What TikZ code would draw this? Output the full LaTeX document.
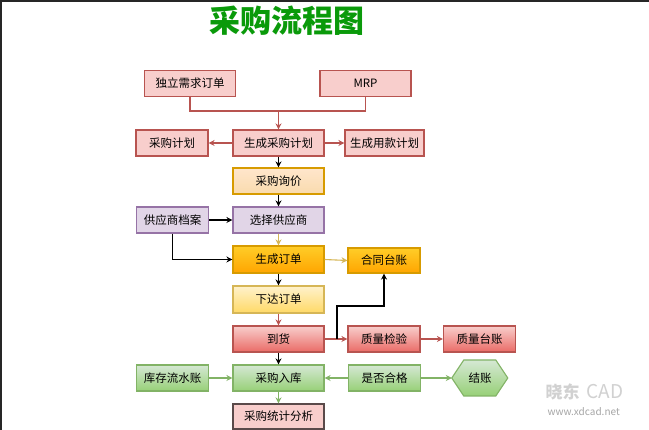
\documentclass[tikz,border=0pt]{standalone}
\usepackage{fontspec}
\setmainfont{Noto Sans CJK SC}
\usetikzlibrary{arrows.meta,calc}
\definecolor{redfill}{HTML}{F8CECC}
\definecolor{redline}{HTML}{B85450}
\definecolor{redbot}{HTML}{EA6B66}
\definecolor{orafill}{HTML}{FFE6CC}
\definecolor{oraline}{HTML}{D79B00}
\definecolor{goldtop}{HTML}{FFCD28}
\definecolor{goldbot}{HTML}{FFA500}
\definecolor{yelfill}{HTML}{FFF2CC}
\definecolor{yelbot}{HTML}{FFD966}
\definecolor{yelline}{HTML}{D6B656}
\definecolor{purfill}{HTML}{E1D5E7}
\definecolor{purline}{HTML}{9673A6}
\definecolor{grefill}{HTML}{D5E8D4}
\definecolor{grebot}{HTML}{97D077}
\definecolor{greline}{HTML}{82B366}
\definecolor{titlegreen}{HTML}{0A9A0A}
\definecolor{darkedge}{HTML}{5A4A4A}
\begin{document}
\begin{tikzpicture}[x=1pt,y=-1pt,
  font=\fontsize{11.5}{12}\selectfont,
  box/.style={draw, line width=1.1pt, minimum width=91pt, minimum height=26pt, inner sep=0pt},
  sbox/.style={box, minimum width=72pt},
  pinkbox/.style={fill=redfill, draw=redline},
  peachbox/.style={top color=orafill, bottom color=orafill!85!oraline, draw=oraline},
  purbox/.style={fill=purfill, draw=purline},
  goldbox/.style={top color=goldtop, bottom color=goldbot, draw=oraline},
  yelbox/.style={top color=yelfill, bottom color=yelbot, draw=yelline},
  redbox/.style={top color=redfill, bottom color=redbot, draw=redline},
  grebox/.style={top color=grefill, bottom color=grebot, draw=greline},
  arr/.style={line width=1.1pt, -{Stealth[length=6pt,width=6pt]}},
  ln/.style={line width=1.1pt},
]
\useasboundingbox (0,0) rectangle (649,430);
\fill[white] (0,0) rectangle (649,430);
\draw[line width=2pt, black!85] (1,430) -- (1,1) -- (649,1);

\node[text=titlegreen, font=\fontsize{31}{31}\selectfont\bfseries] (title) at (287,21) {采购流程图};

\node[box, pinkbox] (dl) at (190,83.5) {独立需求订单};
\node[box, pinkbox] (mrp) at (365.5,83.5) {MRP};
\node[sbox, pinkbox] (cgjh) at (172,143) {采购计划};
\node[box, pinkbox] (sccg) at (278.5,143) {生成采购计划};
\node[sbox, pinkbox, minimum width=79pt] (scyk) at (384.5,143) {生成用款计划};
\node[box, peachbox] (xj) at (278.5,181) {采购询价};
\node[box, purbox] (xz) at (278.5,220) {选择供应商};
\node[sbox, purbox] (da) at (172.5,220) {供应商档案};
\node[box, goldbox, minimum height=27pt] (scdd) at (278.5,259.5) {生成订单};
\node[sbox, goldbox, minimum height=25pt] (ht) at (384,260.5) {合同台账};
\node[box, yelbox, minimum height=27pt] (xd) at (278.5,299.5) {下达订单};
\node[box, redbox] (dh) at (278.5,339) {到货};
\node[sbox, redbox] (zj) at (384,339) {质量检验};
\node[sbox, redbox] (zt) at (479.5,339) {质量台账};
\node[sbox, grebox] (kc) at (172.5,378) {库存流水账};
\node[box, grebox] (rk) at (278.5,378) {采购入库};
\node[sbox, grebox] (sf) at (384.5,378) {是否合格};
\node[box, pinkbox, draw=darkedge, minimum height=25pt] (tj) at (278.5,416.5) {采购统计分析};

% hexagon
\node[minimum width=56pt, minimum height=36pt, inner sep=0pt] (jz) at (480,378) {};
\path[draw=greline, line width=1.1pt, top color=grefill, bottom color=grebot]
  (jz.west) -- ++(12,-18) -- ++(32,0) -- ++(12,18) -- ++(-12,18) -- ++(-32,0) -- cycle;
\node at (jz) {结账};

% connectors
\coordinate (m1) at (278.5,111);
\draw[ln, redline] (dl.south) |- (m1) -| (mrp.south);
\draw[arr, redline] (m1) -- (sccg.north);
\draw[arr, redline] (sccg.west) -- (cgjh.east);
\draw[arr, redline] (sccg.east) -- (scyk.west);
\draw[arr] (sccg.south) -- (xj.north);
\draw[arr] (xj.south) -- (xz.north);
\draw[arr] (da.east) -- (xz.west);
\draw[arr, yelline] (xz.south) -- (scdd.north);
\draw[arr] (da.south) |- (scdd.west);
\draw[arr, yelline] (scdd.east) -- (ht.west);
\draw[arr] (scdd.south) -- (xd.north);
\draw[arr, redline] (xd.south) -- (dh.north);
\draw[arr, redline] (dh.east) -- (zj.west);
\coordinate (j0) at (337,339);
\coordinate (j1) at (337,306);
\draw[arr] (j0) -- (j1) -| (ht.south);
\draw[arr, redline] (zj.east) -- (zt.west);
\draw[arr] (dh.south) -- (rk.north);
\draw[arr, greline] (kc.east) -- (rk.west);
\draw[arr, greline] (sf.west) -- (rk.east);
\draw[arr, greline] (sf.east) -- (jz.west);
\draw[arr, greline] (rk.south) -- (tj.north);

% watermark
\node[text=black!18, font=\fontsize{17}{17}\selectfont\bfseries, anchor=west] (wm1) at (542,392) {晓东};
\node[text=black!18, font=\fontsize{19}{19}\selectfont\itshape, anchor=west] (wm2) at (583,392) {CAD};
\node[text=black!35, font=\fontsize{10}{10}\selectfont, anchor=west] (wm3) at (544,412) {www.xdcad.net};
\end{tikzpicture}
\end{document}
